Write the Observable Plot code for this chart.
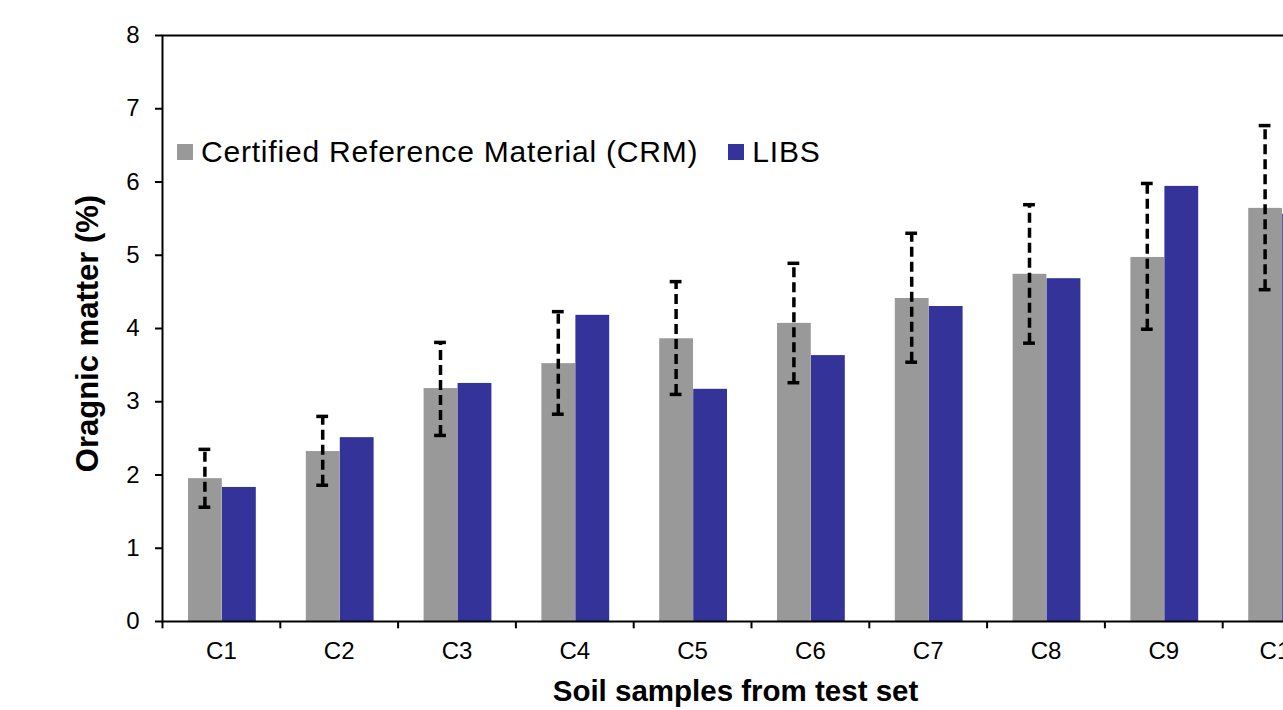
<!DOCTYPE html>
<html>
<head>
<meta charset="utf-8">
<script src="https://cdn.jsdelivr.net/npm/d3@7"></script>
<script src="https://cdn.jsdelivr.net/npm/@observablehq/plot@0.6"></script>
<style>
  html, body { margin: 0; padding: 0; background: #fff; overflow: hidden; }
  #wrap { position: relative; width: 1283px; height: 710px; overflow: hidden; font-family: "Liberation Sans", Arial, sans-serif; }
  #wrap svg { max-width: none !important; display: block; }
  #legend { position: absolute; left: 177px; top: 135px; height: 34px; display: flex; align-items: center; font-size: 30px; letter-spacing: 0.8px; color: #000; white-space: nowrap; }
  .sw { width: 16px; height: 16px; display: inline-block; margin-right: 8px; }
</style>
</head>
<body>
<div id="wrap"><div id="legend"></div></div>
<script>
const categories = ["C1","C2","C3","C4","C5","C6","C7","C8","C9","C10"];
const crm  = [1.95, 2.32, 3.18, 3.52, 3.86, 4.07, 4.41, 4.74, 4.97, 5.64];
const libs = [1.83, 2.51, 3.25, 4.18, 3.17, 3.63, 4.30, 4.68, 5.94, 5.56];
const errLow  = [1.56, 1.86, 2.54, 2.83, 3.10, 3.26, 3.54, 3.80, 3.99, 4.53];
const errHigh = [2.35, 2.80, 3.81, 4.23, 4.64, 4.89, 5.30, 5.69, 5.98, 6.77];
const yTicks = [0,1,2,3,4,5,6,7,8];
const seriesNames = ["Certified Reference Material (CRM)", "LIBS"];
const seriesColors = ["#999999", "#333399"];

const rows = categories.map((c, i) => ({cat: c, crm: crm[i], libs: libs[i], lo: errLow[i], hi: errHigh[i]}));

const chart = Plot.plot({
  width: 1360,
  height: 710,
  marginLeft: 162,
  marginRight: 20,
  marginTop: 35,
  marginBottom: 89,
  style: {fontFamily: "'Liberation Sans', Arial, sans-serif", color: "#000", background: "#fff", maxWidth: "none"},
  x: {type: "band", domain: categories, padding: 0, round: false},
  y: {domain: [0, 8]},
  marks: [
    Plot.barY(rows, {x: "cat", y: "crm", fill: seriesColors[0], insetLeft: 26, insetRight: 58}),
    Plot.barY(rows, {x: "cat", y: "libs", fill: seriesColors[1], insetLeft: 60, insetRight: 24}),
    Plot.ruleX(rows, {x: "cat", y1: "lo", y2: "hi", dx: -16.5, stroke: "#000", strokeWidth: 3.5, strokeDasharray: "10,5"}),
    Plot.tickY(rows, {x: "cat", y: "lo", insetLeft: 36.5, insetRight: 69.5, stroke: "#000", strokeWidth: 3.5}),
    Plot.tickY(rows, {x: "cat", y: "hi", insetLeft: 36.5, insetRight: 69.5, stroke: "#000", strokeWidth: 3.5}),
    Plot.frame({stroke: "#000", strokeWidth: 2}),
    Plot.ruleX(rows, {x: "cat", y1: 0, y2: -0.1, dx: -58.9, stroke: "#000", strokeWidth: 2}),
    Plot.axisY({ticks: yTicks, tickSize: 7, tickPadding: 16, label: null, fontSize: 24, tickFormat: d => String(d), strokeWidth: 2}),
    Plot.axisX({tickSize: 0, tickPadding: 20, label: null, fontSize: 24}),
    Plot.text(["Oragnic matter (%)"], {frameAnchor: "left", textAnchor: "middle", rotate: -90, dx: -74, dy: 5, fontWeight: "bold", fontSize: 31, fill: "#000"}),
    Plot.text(["Soil samples from test set"], {frameAnchor: "bottom", dx: -16, dy: 79, fontWeight: "bold", fontSize: 29.5, fill: "#000"})
  ]
});

document.getElementById("wrap").insertBefore(chart, document.getElementById("legend"));
const leg = document.getElementById("legend");
seriesNames.forEach((name, i) => {
  const sw = document.createElement("span");
  sw.className = "sw";
  sw.style.background = seriesColors[i];
  if (i > 0) sw.style.marginLeft = "30px";
  const t = document.createElement("span");
  t.textContent = name;
  leg.appendChild(sw);
  leg.appendChild(t);
});
</script>
</body>
</html>
